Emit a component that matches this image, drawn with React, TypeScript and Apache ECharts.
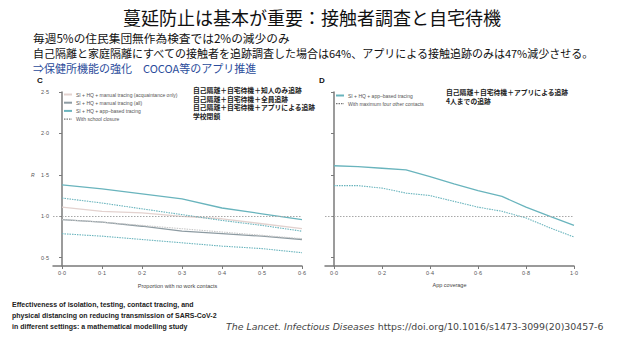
import React, { useEffect, useRef } from "react";
import * as echarts from "echarts";

// Panel C: proportion with no work contacts
const workX = [0, 0.1, 0.2, 0.3, 0.4, 0.5, 0.6];
const acqOnly = [1.11, 1.06, 1.04, 1.0, 0.97, 0.91, 0.85];
const manualAll = [0.96, 0.93, 0.88, 0.82, 0.79, 0.76, 0.72];
const appBased = [1.38, 1.33, 1.27, 1.21, 1.1, 1.03, 0.96];
const acqSchool = [0.96, 0.93, 0.89, 0.85, 0.81, 0.77, 0.73];
const appSchool = [1.22, 1.16, 1.09, 1.02, 0.95, 0.89, 0.82];
const allSchool = [0.79, 0.76, 0.72, 0.68, 0.64, 0.61, 0.56];

// Panel D: app coverage
const appX = [0, 0.1, 0.2, 0.3, 0.4, 0.5, 0.6, 0.7, 0.8, 0.9, 1.0];
const appCoverage = [1.61, 1.6, 1.58, 1.56, 1.48, 1.39, 1.31, 1.24, 1.11, 1.0, 0.89];
const appMaxFour = [1.37, 1.37, 1.34, 1.28, 1.25, 1.18, 1.11, 1.06, 0.98, 0.86, 0.75];

const yTicks = [0.5, 1.0, 1.5, 2.0, 2.5];
const workTicks = [0, 0.1, 0.2, 0.3, 0.4, 0.5, 0.6];
const appTicks = [0, 0.2, 0.4, 0.6, 0.8, 1.0];

const title = "蔓延防止は基本が重要：接触者調査と自宅待機";
const bodyLines = [
  "毎週5%の住民集団無作為検査では2%の減少のみ",
  "自己隔離と家庭隔離にすべての接触者を追跡調査した場合は64%、アプリによる接触追跡のみは47%減少させる。",
];
const blueLine = "⇒保健所機能の強化　COCOA等のアプリ推進";
const jpLeft = [
  "自己隔離＋自宅待機＋知人のみ追跡",
  "自己隔離＋自宅待機＋全員追跡",
  "自己隔離＋自宅待機＋アプリによる追跡",
  "学校閉鎖",
];
const jpRight = ["自己隔離＋自宅待機＋アプリによる追跡", "4人までの追跡"];
const paperTitle = [
  "Effectiveness of isolation, testing, contact tracing, and",
  "physical distancing on reducing transmission of SARS-CoV-2",
  "in different settings: a mathematical modelling study",
];

const JP = "'Noto Sans CJK JP', 'Noto Sans', sans-serif";
const NARROW = "'Liberation Sans Narrow', 'Liberation Sans', sans-serif";

const C_ACQ = "#e3d2cf";
const C_ALL = "#8d9ba2";
const C_APP = "#69b4bd";
const C_AXIS = "#7a7a7a";

const fmt = (v: number) => v.toFixed(1).replace(".", "·");
const pairs = (xs: number[], ys: number[]) => xs.map((x, i) => [x, ys[i]]);

export default function App() {
  const ref = useRef<HTMLDivElement>(null);
  useEffect(() => {
    if (!ref.current) return;
    const chart = echarts.init(ref.current, undefined, { renderer: "svg" });

    const axisCommon = {
      type: "value" as const,
      axisLine: { show: true, lineStyle: { color: C_AXIS, width: 1.5 } },
      splitLine: { show: false },
      axisTick: { show: true, length: 3, lineStyle: { color: C_AXIS } },
      axisLabel: { fontSize: 5.5, color: "#555", fontFamily: NARROW, margin: 4, formatter: fmt },
    };

    const line = (name: string, xi: number, xs: number[], ys: number[], color: string, type: any, width = 1.3, extra: any = {}) => ({
      name,
      type: "line",
      xAxisIndex: xi,
      yAxisIndex: xi,
      data: pairs(xs, ys),
      symbol: "none",
      lineStyle: { color, type, width },
      itemStyle: { color },
      ...extra,
    });

    const refLine = {
      markLine: {
        silent: true,
        symbol: "none",
        label: { show: false },
        lineStyle: { color: "#a8a8a8", type: [1.5, 1.5], width: 1 },
        data: [{ yAxis: 1 }],
      },
    };

    const textEl = (text: string, x: number, y: number, style: any = {}) => ({
      type: "text",
      x,
      y,
      style: { text, fontFamily: JP, fontSize: 11, fill: "#111", textVerticalAlign: "middle", ...style },
    });

    const legendCommon = {
      orient: "vertical",
      itemWidth: 8,
      itemHeight: 5,
      itemGap: 3.2,
      itemStyle: { opacity: 0 },
      textStyle: { fontSize: 5, color: "#555", fontFamily: NARROW, padding: [0, 0, 0, -1] },
    };

    chart.setOption({
      animation: false,
      grid: [
        { left: 53, top: 92, width: 249, height: 174 },
        { left: 325, top: 92, width: 249, height: 174 },
      ],
      xAxis: [
        {
          ...axisCommon,
          gridIndex: 0,
          min: -0.0225,
          max: 0.6,
          axisTick: { ...axisCommon.axisTick, customValues: workTicks },
          axisLabel: { ...axisCommon.axisLabel, customValues: workTicks },
          name: "Proportion with no work contacts",
          nameLocation: "middle",
          nameGap: 17,
          nameTextStyle: { fontSize: 5.5, color: "#444", fontFamily: NARROW },
        },
        {
          ...axisCommon,
          gridIndex: 1,
          min: -0.0375,
          max: 1.0,
          axisTick: { ...axisCommon.axisTick, customValues: appTicks },
          axisLabel: { ...axisCommon.axisLabel, customValues: appTicks },
          name: "App coverage",
          nameLocation: "middle",
          nameGap: 16,
          nameTextStyle: { fontSize: 5.5, color: "#444", fontFamily: NARROW },
        },
      ],
      yAxis: [
        {
          ...axisCommon,
          gridIndex: 0,
          min: 0.4,
          max: 2.5,
          axisTick: { ...axisCommon.axisTick, customValues: yTicks },
          axisLabel: { ...axisCommon.axisLabel, customValues: yTicks },
        },
        {
          ...axisCommon,
          gridIndex: 1,
          min: 0.4,
          max: 2.5,
          axisTick: { ...axisCommon.axisTick, customValues: yTicks },
          axisLabel: { show: false },
        },
      ],
      legend: [
        {
          ...legendCommon,
          left: 58,
          top: 87,
          data: [
            { name: "SI + HQ + manual tracing (acquaintance only)" },
            { name: "SI + HQ + manual tracing (all)" },
            { name: "SI + HQ + app–based tracing" },
            { name: "With school closure", lineStyle: { color: "#555", type: [1.5, 1], width: 1 } },
          ],
        },
        {
          ...legendCommon,
          left: 330,
          top: 88,
          data: [
            { name: "SI + HQ + app–based tracing " },
            { name: "With maximum four other contacts", lineStyle: { color: "#555", type: [1.5, 1], width: 1 } },
          ],
        },
      ],
      series: [
        line("SI + HQ + manual tracing (acquaintance only)", 0, workX, acqOnly, C_ACQ, "solid", 1.3),
        line("SI + HQ + manual tracing (all)", 0, workX, manualAll, C_ALL, "solid", 1.3),
        line("SI + HQ + app–based tracing", 0, workX, appBased, C_APP, "solid", 1.3, refLine),
        line("With school closure", 0, workX, acqSchool, "#c9c9c9", [1.5, 1], 1.1),
        line("app school", 0, workX, appSchool, C_APP, [1.5, 1], 1.1),
        line("all school", 0, workX, allSchool, C_APP, [1.5, 1], 1.1),
        line("SI + HQ + app–based tracing ", 1, appX, appCoverage, C_APP, "solid", 1.3, refLine),
        line("With maximum four other contacts", 1, appX, appMaxFour, C_APP, [1.5, 1], 1.1),
      ],
      graphic: [
        textEl(title, 312, 17, { fontSize: 18, textAlign: "center", fill: "#111" }),
        textEl(bodyLines[0], 33, 37, { fontSize: 11.7 }),
        textEl(bodyLines[1], 33, 53, { fontSize: 11 }),
        textEl(blueLine, 33, 67.5, { fontSize: 11, fill: "#2b4c9b" }),
        textEl("C", 37, 80, { fontSize: 8, fontWeight: "bold", fontFamily: "'Liberation Sans', sans-serif" }),
        textEl("D", 319, 80, { fontSize: 8, fontWeight: "bold", fontFamily: "'Liberation Sans', sans-serif" }),
        textEl("R", 31, 175, { fontSize: 5, fill: "#555", fontStyle: "italic", fontFamily: NARROW }),
        ...jpLeft.map((t, i) => textEl(t, 193, 90 + i * 8.7, { fontSize: 6.8, fontWeight: "bold", fill: "#222" })),
        ...jpRight.map((t, i) => textEl(t, 446, 92 + i * 9.3, { fontSize: 6.8, fontWeight: "bold", fill: "#222" })),
        ...paperTitle.map((t, i) =>
          textEl(t, 12, 304 + i * 11, { fontSize: 7, fontWeight: "bold", fontFamily: NARROW, fill: "#222" })
        ),
        {
          type: "text",
          x: 226,
          y: 326,
          style: {
            text: "{i|The Lancet. Infectious Diseases} {n|https://doi.org/10.1016/s1473-3099(20)30457-6}",
            textVerticalAlign: "middle",
            rich: {
              i: { fontFamily: "'DejaVu Sans', sans-serif", fontSize: 9.4, fontStyle: "italic", fill: "#444" },
              n: { fontFamily: "'DejaVu Sans', sans-serif", fontSize: 9.4, fill: "#444" },
            },
          },
        },
      ],
    });
    return () => chart.dispose();
  }, []);

  return (
    <div
      ref={ref}
      style={{ width: 625, height: 351, position: "absolute", left: 0, top: 0, background: "#fff" }}
    />
  );
}
